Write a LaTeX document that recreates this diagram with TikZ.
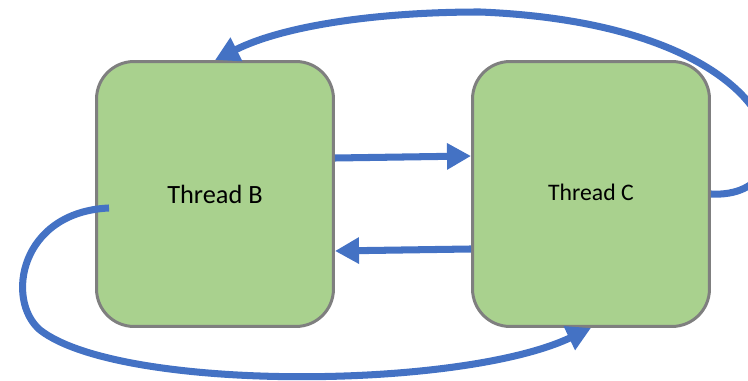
\documentclass[tikz,border=0pt]{standalone}
\usepackage{fontspec}
\setmainfont{Carlito}
\usepackage{xcolor}
\usetikzlibrary{arrows.meta,calc}
\definecolor{threadfill}{HTML}{A9D18E}
\definecolor{threadline}{HTML}{7F7F7F}
\definecolor{flowblue}{HTML}{4472C4}

\begin{document}
\begin{tikzpicture}[x=0.02cm,y=-0.02cm,
		thread/.style={draw=threadline,fill=threadfill,line width=1.7pt,rounded corners=0.75cm,minimum width=4.74cm,minimum height=5.3cm,inner sep=0pt},
		flow/.style={draw=flowblue,line width=4pt,-{Triangle[length=0.48cm,width=0.5cm]}}]
		\useasboundingbox (0,0) rectangle (748,381);
		% the two threads
		\node[thread,font=\fontsize{15}{18}\selectfont] (B) at (215,194) {Thread B};
		\node[thread,font=\fontsize{13.5}{16}\selectfont] (C) at (591,194) {\raisebox{0.08cm}{Thread C}};
		% direct hand-over between B and C
		\draw[flow]([yshift=0.72cm]B.east)--([yshift=0.76cm]C.west);
		\draw[flow]([yshift=-1.1cm]C.west)--([yshift=-1.14cm]B.east);
		% loops round the outside
		\draw[flow](C.east) .. controls (815,200) and (800,25) .. (480,12) .. controls (380,12) and (285,25) .. (B.north);
		\draw[flow]([xshift=0.28cm,yshift=-0.28cm]B.west) .. controls (20,212) and (5,300) .. (40,330) .. controls (120,392) and (460,390) .. (C.south);
	\end{tikzpicture}
\end{document}
